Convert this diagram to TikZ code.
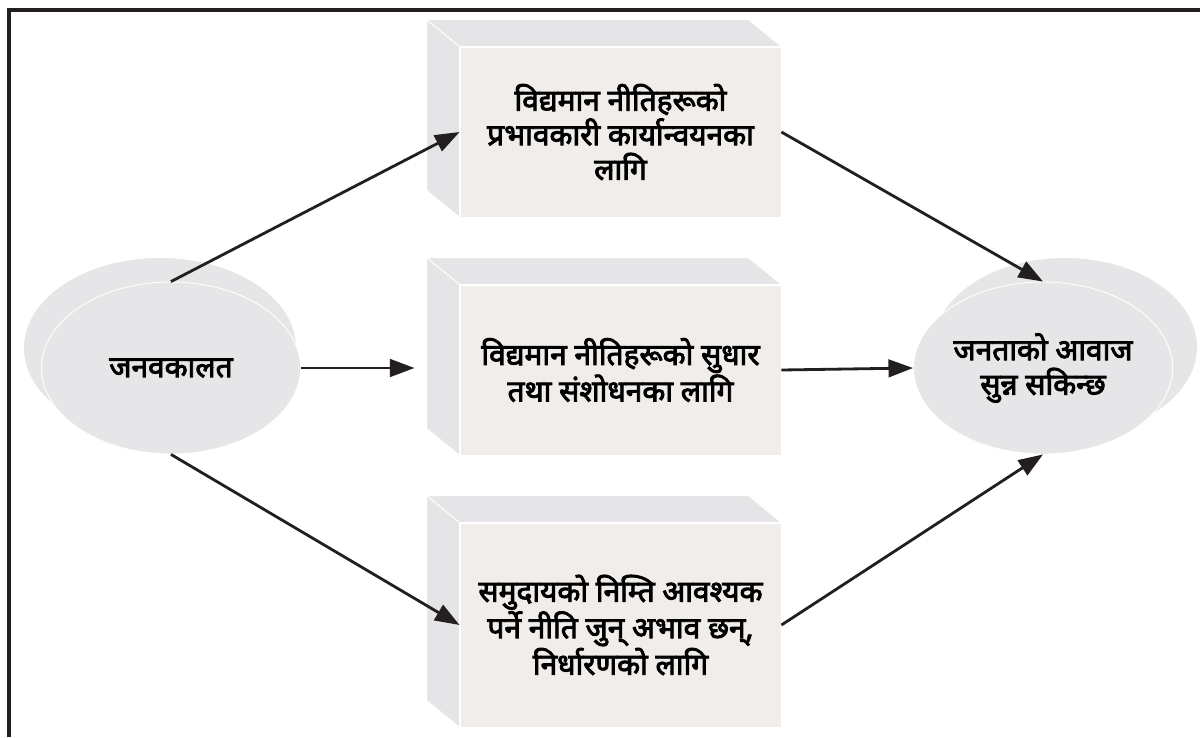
\documentclass[tikz,border=0pt]{standalone}
\usepackage{fontspec}
\newfontfamily\devfont[Script=Devanagari, FakeBold=3]{Noto Sans}
\usetikzlibrary{shapes.geometric,arrows.meta}
\definecolor{framecol}{RGB}{35,31,32}
\definecolor{ovalgray}{RGB}{230,230,232}
\definecolor{facegray}{RGB}{240,237,235}
\definecolor{sidegray}{RGB}{229,229,231}
\begin{document}
\begin{tikzpicture}[
    font=\devfont\fontsize{17}{19.6}\selectfont,
    oval/.style={ellipse, fill=ovalgray, draw=white, line width=0.5pt, minimum width=5.18cm, minimum height=3.44cm, inner sep=0pt, align=center},
    face/.style={rectangle, fill=facegray, draw=white, line width=0.5pt, minimum width=6.42cm, minimum height=3.4cm, inner sep=0pt, align=center},
    arr/.style={-{Triangle[length=14pt,width=10pt]}, line width=1.6pt, draw=framecol}
]
\useasboundingbox (0,0) rectangle (24,14.74);
% Rahmen
\draw[framecol, line width=2pt] (0.18,0) -- (0.18,14.54) -- (24,14.54);

% Ovale
\fill[ovalgray] (3.20,7.78) ellipse [x radius=2.72, y radius=1.80];
\node[oval] (jana) at (3.42,7.38) {जनवकालत};
\fill[ovalgray] (21.30,7.80) ellipse [x radius=2.64, y radius=1.78];
\node[oval] (awaj) at (20.86,7.38) {जनताको आवाज\\सुन्न सकिन्छ};

% Kaesten
\node[face] (b1) at (12.41,12.10) {विद्यमान नीतिहरूको\\प्रभावकारी कार्यान्वयनका\\लागि};
\node[face] (b2) at (12.41,7.34) {विद्यमान नीतिहरूको सुधार\\तथा संशोधनका लागि};
\node[face, minimum height=4.08cm] (b3) at (12.41,2.24) {समुदायको निम्ति आवश्यक\\पर्ने नीति जुन् अभाव छन्,\\निर्धारणको लागि};
\foreach \b in {b1,b2,b3} {
    \filldraw[fill=sidegray, draw=white, line width=0.5pt] (\b.north west) -- ++(-0.66,0.54) -- ([shift={(-0.66,0.54)}]\b.north east) -- (\b.north east) -- cycle;
    \filldraw[fill=sidegray, draw=white, line width=0.5pt] (\b.north west) -- ++(-0.66,0.54) -- ([shift={(-0.66,0.54)}]\b.south west) -- (\b.south west) -- cycle;
}

% Pfeile
\draw[arr] (jana.north) -- (b1.west);
\draw[arr, shorten >=0.9cm] (jana.east) -- (jana.east -| b2.west);
\draw[arr] (jana.south) -- (b3.west);
\draw[arr] (b1.east) -- (awaj.north);
\draw[arr] (b2.east) -- (awaj.west);
\draw[arr] (b3.east) -- (awaj.south);
\end{tikzpicture}
\end{document}
